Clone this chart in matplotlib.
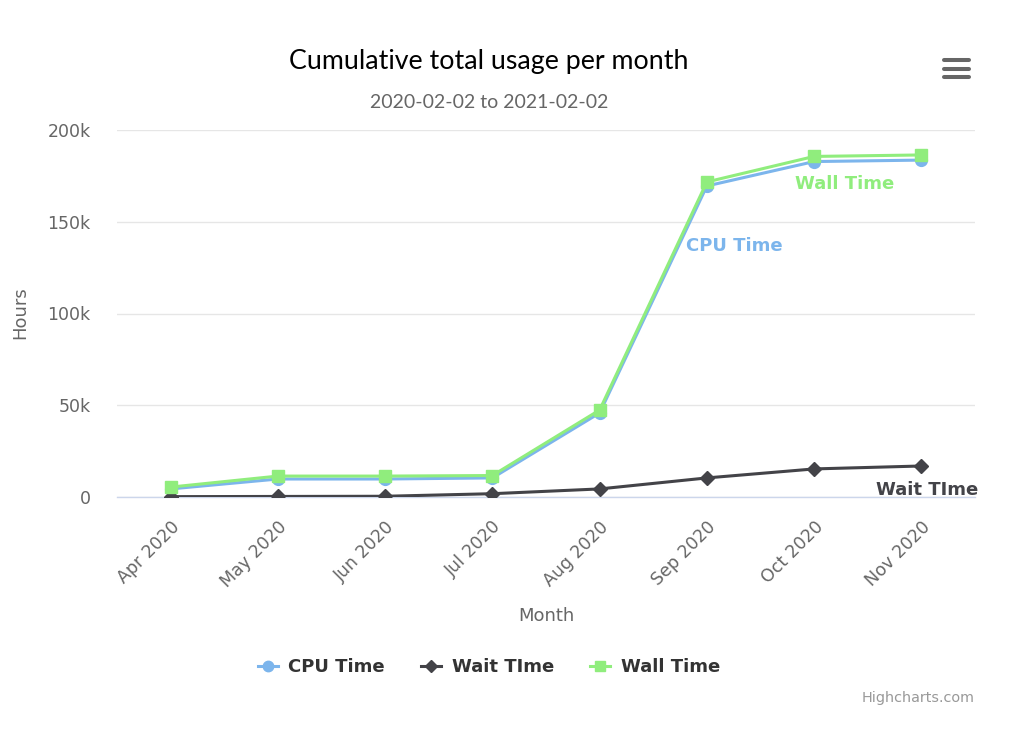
import matplotlib
matplotlib.use("Agg")
import matplotlib.pyplot as plt
from matplotlib.lines import Line2D

plt.rcParams['font.family'] = ['DejaVu Sans']

months = ["Apr 2020", "May 2020", "Jun 2020", "Jul 2020", "Aug 2020", "Sep 2020", "Oct 2020", "Nov 2020"]
cpu_time = [4400, 9800, 9800, 10400, 45800, 169500, 182800, 183600]
wait_time = [200, 300, 400, 1800, 4400, 10400, 15300, 16900]
wall_time = [5400, 11400, 11400, 11700, 47400, 171700, 185600, 186400]
yticks = [0, 50000, 100000, 150000, 200000]
ytick_labels = ["0", "50k", "100k", "150k", "200k"]

W, H = 1012, 744
fig = plt.figure(figsize=(W / 100, H / 100), dpi=100)
ax = fig.add_axes([117 / W, 1 - 497 / H, (975 - 117) / W, (497 - 130) / H])

x = list(range(len(months)))
c_cpu, c_wait, c_wall = "#7cb5ec", "#434348", "#90ed7d"

ax.plot(x, cpu_time, color=c_cpu, lw=2.2, marker="o", ms=8.5, zorder=3)
ax.plot(x, wait_time, color=c_wait, lw=2.2, marker="D", ms=7, zorder=3)
ax.plot(x, wall_time, color=c_wall, lw=2.2, marker="s", ms=8.5, zorder=4)

ax.set_xlim(-0.5, len(months) - 0.5)
ax.set_ylim(0, 200000)
ax.set_yticks(yticks)
ax.set_yticklabels(ytick_labels)
ax.set_xticks(x)
ax.set_xticklabels(months, rotation=45, ha="right", rotation_mode="anchor")

ax.grid(axis="y", color="#e6e6e6", lw=1)
ax.set_axisbelow(True)
for s in ["top", "right", "left"]:
    ax.spines[s].set_visible(False)
ax.spines["bottom"].set_color("#ccd6eb")
ax.spines["bottom"].set_linewidth(1)
ax.tick_params(axis="y", length=0, labelsize=12.5, labelcolor="#666666", pad=19)
ax.tick_params(axis="x", length=0, labelsize=12.5, labelcolor="#666666", pad=15)

ax.set_ylabel("Hours", fontsize=13, color="#666666")
ax.set_xlabel("Month", fontsize=13, color="#666666")

# series labels
ax.text(6.28, wall_time[6] - 15000, "Wall Time", color=c_wall, fontsize=13, fontweight="bold", ha="center", va="center")
ax.text(5.26, cpu_time[5] - 32500, "CPU Time", color=c_cpu, fontsize=13, fontweight="bold", ha="center", va="center")
ax.text(7.05, wait_time[7] - 13000, "Wait TIme", color=c_wait, fontsize=13, fontweight="bold", ha="center", va="center")

title = fig.text(489 / W, 1 - 61 / H, "Cumulative total usage per month", fontsize=17, color="#000000",
                 ha="center", va="center", family=["Lato", "DejaVu Sans"])
sub = fig.text(489 / W, 1 - 102 / H, "2020-02-02 to 2021-02-02", fontsize=14, color="#666666",
               ha="center", va="center", family=["Lato", "DejaVu Sans"])

handles = [
    Line2D([], [], color=c_cpu, lw=2.2, marker="o", ms=7.5),
    Line2D([], [], color=c_wait, lw=2.2, marker="D", ms=6),
    Line2D([], [], color=c_wall, lw=2.2, marker="s", ms=7.5),
]
leg = fig.legend(handles, ["CPU Time", "Wait TIme", "Wall Time"], loc="center",
                 bbox_to_anchor=(489 / W, 1 - 667 / H), ncol=3, frameon=False,
                 prop={"weight": "bold", "size": 13}, handlelength=1.1, columnspacing=2.0,
                 handletextpad=0.6)
for t in leg.get_texts():
    t.set_color("#333333")

credit = fig.text(975 / W, 1 - 698 / H, "Highcharts.com", fontsize=10, color="#999999", ha="right", va="center")

# context menu icon
for yy in (59.7, 68.5, 77.3):
    fig.add_artist(Line2D([944 / W, 969 / W], [1 - yy / H, 1 - yy / H], color="#666666", lw=2.9,
                          solid_capstyle="round"))

# fit text sizes to the reference widths (pixels)
fig.canvas.draw()
r = fig.canvas.get_renderer()


def fit(t, target):
    w = t.get_window_extent(r).width
    t.set_fontsize(t.get_fontsize() * target / w)


fit(title, 398)
fit(credit, 113)
fig.canvas.draw()

# axis title positions in figure pixels
ax.yaxis.set_label_coords(20 / W, 1 - 313 / H, transform=fig.transFigure)
ax.xaxis.set_label_coords(546 / W, 1 - 616 / H, transform=fig.transFigure)
ax.xaxis.label.set_va("center")
ax.yaxis.label.set_va("center")

fig.savefig("out.png", dpi=100, facecolor="white")
